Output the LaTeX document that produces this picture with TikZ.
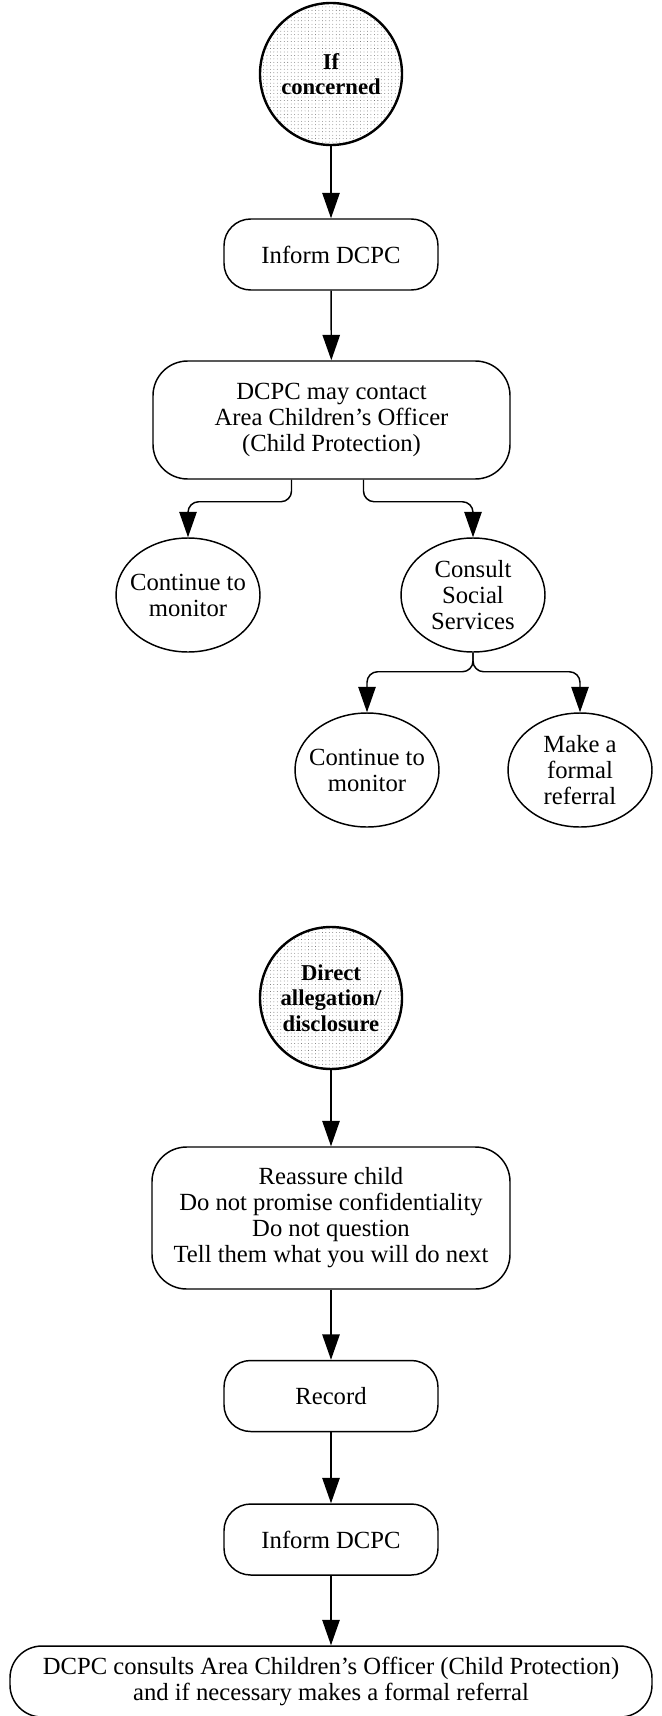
\documentclass[tikz,border=0pt]{standalone}
\usepackage{fontspec}
\setmainfont{Liberation Serif}
\usepackage{tikz}
\usetikzlibrary{shapes.geometric,patterns.meta,arrows.meta}
\tikzstyle{startnode} = [circle, draw, line width=1.8pt, pattern={Dots[distance=2.6pt, radius=0.3pt]}, pattern color=black!70, minimum size=106.5pt, inner sep=0pt, align=center, font=\fontsize{17}{19}\selectfont\bfseries]
\tikzstyle{stepbox} = [draw, line width=1.1pt, rounded corners=20pt, align=center, inner sep=0pt]
\tikzstyle{outcome} = [ellipse, draw, line width=1.1pt, minimum width=108pt, minimum height=85.5pt, inner xsep=-12pt, inner ysep=0pt, align=center]
\tikzstyle{arr} = [line width=1.1pt, -{Triangle[length=19pt,width=13pt]}]

\begin{document}
\begin{tikzpicture}[x=0.75pt, y=-0.75pt, font=\fontsize{18.5}{19.5}\selectfont]
  \useasboundingbox (0,0) rectangle (661,1716);

  % if concerned
  \node[startnode] (concern) at (331,74) {If\\concerned};
  \node[stepbox, minimum width=160.5pt, minimum height=53.25pt] (inform1) at (331,254.5) {Inform DCPC};
  \node[stepbox, rounded corners=26pt, minimum width=267.75pt, minimum height=88.5pt] (contact) at (331.5,420) {DCPC may contact\\Area Children's Officer\\(Child Protection)};
  \node[outcome] (mon1) at (188,595) {Continue to\\monitor};
  \node[outcome] (consult) at (473,595) {Consult\\Social\\Services};
  \node[outcome] (mon2) at (367,770) {Continue to\\monitor};
  \node[outcome] (refer) at (580,770) {Make a\\formal\\referral};

  \draw[arr] (concern) -- (inform1);
  \draw[arr] (inform1) -- (contact);
  \draw[arr, rounded corners=8pt] ([xshift=-30pt]contact.south) -- ++(0,22) -| (mon1.north);
  \draw[arr, rounded corners=8pt] ([xshift=24pt]contact.south) -- ++(0,22) -| (consult.north);
  \draw[arr, rounded corners=8pt] (consult.south) -- ++(0,19) -| (mon2.north);
  \draw[arr, rounded corners=8pt] (consult.south) -- ++(0,19) -| (refer.north);

  % direct allegation
  \node[startnode] (direct) at (331,998) {Direct\\allegation/\\disclosure};
  \node[stepbox, rounded corners=26pt, minimum width=268.5pt, minimum height=106.5pt] (reassure) at (331,1218) {Reassure child\\Do not promise confidentiality\\Do not question\\Tell them what you will do next};
  \node[stepbox, minimum width=160.5pt, minimum height=53.25pt] (record) at (331,1396) {Record};
  \node[stepbox, minimum width=160.5pt, minimum height=53.25pt] (inform2) at (331,1539.5) {Inform DCPC};
  \node[stepbox, rounded corners=24pt, minimum width=481.5pt, minimum height=53.25pt] (consults) at (331,1681.5) {DCPC consults Area Children's Officer (Child Protection)\\and if necessary makes a formal referral};

  \draw[arr] (direct) -- (reassure);
  \draw[arr] (reassure) -- (record);
  \draw[arr] (record) -- (inform2);
  \draw[arr] (inform2) -- (consults);

\end{tikzpicture}
\end{document}
